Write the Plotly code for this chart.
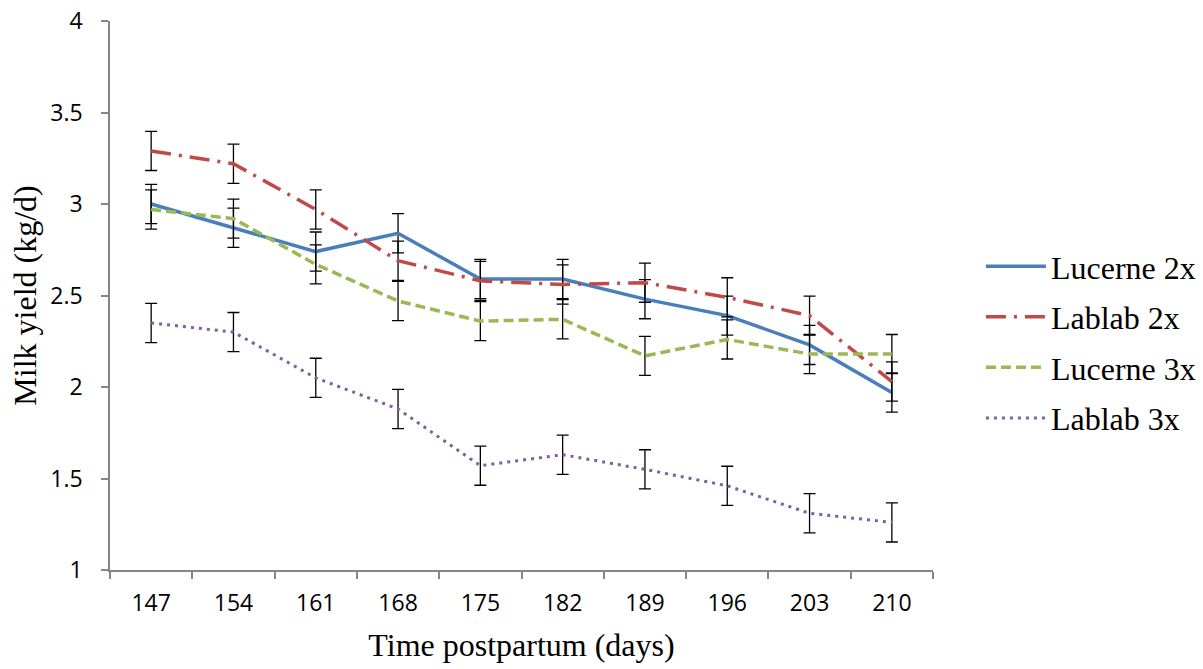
import plotly.graph_objects as go

days = ["147", "154", "161", "168", "175", "182", "189", "196", "203", "210"]

lucerne_2x = [3.00, 2.87, 2.74, 2.84, 2.59, 2.59, 2.48, 2.39, 2.23, 1.97]
lablab_2x = [3.29, 3.22, 2.97, 2.69, 2.58, 2.56, 2.57, 2.49, 2.39, 2.03]
lucerne_3x = [2.97, 2.92, 2.67, 2.47, 2.36, 2.37, 2.17, 2.26, 2.18, 2.18]
lablab_3x = [2.35, 2.30, 2.05, 1.88, 1.57, 1.63, 1.55, 1.46, 1.31, 1.26]

se_lucerne_2x = [0.107, 0.107, 0.107, 0.107, 0.107, 0.107, 0.107, 0.107, 0.107, 0.107]
se_lablab_2x = [0.107, 0.107, 0.107, 0.107, 0.107, 0.107, 0.107, 0.107, 0.107, 0.107]
se_lucerne_3x = [0.107, 0.107, 0.107, 0.107, 0.107, 0.107, 0.107, 0.107, 0.107, 0.107]
se_lablab_3x = [0.107, 0.107, 0.107, 0.107, 0.107, 0.107, 0.107, 0.107, 0.107, 0.107]

series = [
    ("Lucerne 2x", lucerne_2x, se_lucerne_2x, "#4A7EBB", "solid", 3.5),
    ("Lablab 2x", lablab_2x, se_lablab_2x, "#BE4B48", "20px,8px,3px,8px", 3.5),
    ("Lucerne 3x", lucerne_3x, se_lucerne_3x, "#98B954", "10px,5px", 3.5),
    ("Lablab 3x", lablab_3x, se_lablab_3x, "#7D60A0", "3px,5px", 3),
]

fig = go.Figure()
for i, (name, vals, se, color, dash, w) in enumerate(series):
    fig.add_trace(go.Scatter(
        x=days, y=vals, name=name, mode="lines",
        legendgroup=f"g{i}",
        line=dict(color=color, dash=dash, width=w),
        error_y=dict(type="data", array=se, visible=True, color="black",
                     thickness=1.3, width=6),
    ))

AX = "#868686"
TICKFONT = dict(family="Open Sans, Lato, sans-serif", size=23, color="black")
SERIF = "Liberation Serif, Times New Roman, serif"

fig.update_layout(
    width=1203, height=669,
    margin=dict(l=110, r=270, t=21, b=99, autoexpand=False),
    paper_bgcolor="white", plot_bgcolor="white",
    showlegend=True,
    legend=dict(
        xref="container", yref="container",
        x=0.8154, y=0.643, xanchor="left", yanchor="top",
        font=dict(family=SERIF, size=32, color="black"),
        tracegroupgap=6, itemwidth=60,
        bgcolor="rgba(0,0,0,0)",
    ),
    xaxis=dict(
        type="category", range=[-0.5, 9.5], automargin=False,
        showline=True, linecolor=AX, linewidth=1.5,
        ticks="outside", tickson="boundaries", ticklen=7, tickcolor=AX, tickwidth=1.5,
        tickfont=TICKFONT, showgrid=False, zeroline=False,
        ticklabelstandoff=12,
        title=dict(text="Time postpartum (days)", font=dict(family=SERIF, size=32, color="black"),
                   standoff=16),
    ),
    yaxis=dict(
        range=[1, 4], dtick=0.5, tick0=1, automargin=False,
        showline=True, linecolor=AX, linewidth=1.5,
        ticks="outside", ticklen=7, tickcolor=AX, tickwidth=1.5,
        tickfont=TICKFONT, showgrid=False, zeroline=False,
        ticklabelstandoff=14,
        title=dict(text="Milk yield (kg/d)", font=dict(family=SERIF, size=32, color="black"),
                   standoff=4),
    ),
)

fig.write_html("out.html")
